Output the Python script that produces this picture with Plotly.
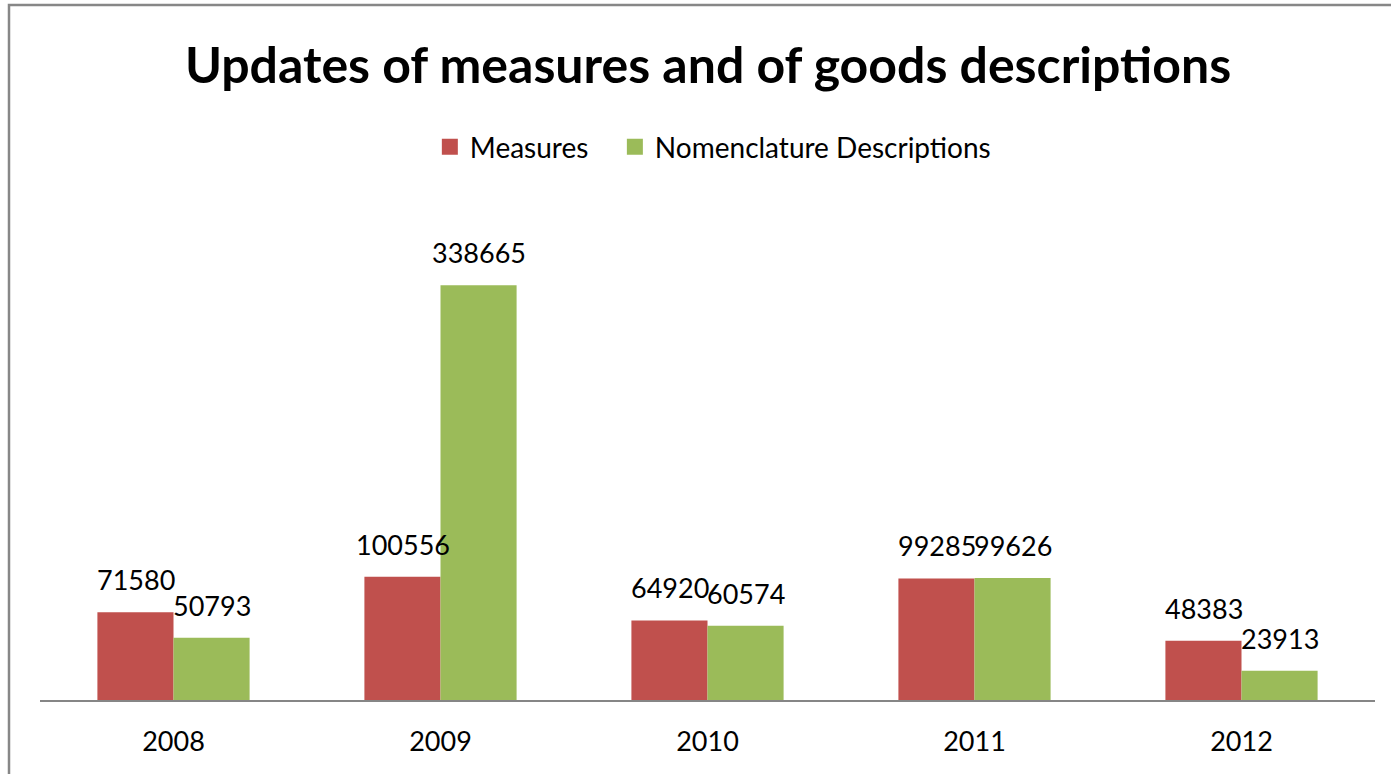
import plotly.graph_objects as go

years = ["2008", "2009", "2010", "2011", "2012"]
measures = [71580, 100556, 64920, 99285, 48383]
nomenclature = [50793, 338665, 60574, 99626, 23913]
series_names = ["Measures", "Nomenclature Descriptions"]

RED = "#C0504D"
GREEN = "#9BBB59"
FONT = "Lato"

fig = go.Figure()
fig.add_trace(go.Bar(name=series_names[0], x=years, y=measures, showlegend=False,
                     marker=dict(color=RED, line=dict(width=0))))
fig.add_trace(go.Bar(name=series_names[1], x=years, y=nomenclature, showlegend=False,
                     marker=dict(color=GREEN, line=dict(width=0))))
# legend entries with larger square swatches
legend_labels = [series_names[0] + "\u00a0\u00a0\u00a0", series_names[1]]
for name, col in zip(legend_labels, [RED, GREEN]):
    fig.add_trace(go.Scatter(name=name, x=[years[0]], y=[None], mode="markers",
                             marker=dict(symbol="square", size=17, color=col), showlegend=True))

annotations = []
for i, v in enumerate(measures):
    annotations.append(dict(x=i, y=v, xref="x", yref="y", text=str(v), showarrow=False,
                            xshift=-38, yanchor="bottom", yshift=14,
                            font=dict(family=FONT, size=27, color="#000000")))
for i, v in enumerate(nomenclature):
    annotations.append(dict(x=i, y=v, xref="x", yref="y", text=str(v), showarrow=False,
                            xshift=38, yanchor="bottom", yshift=14,
                            font=dict(family=FONT, size=27, color="#000000")))

fig.update_layout(
    width=1391, height=774,
    margin=dict(l=40, r=16, t=210, b=74),
    paper_bgcolor="white", plot_bgcolor="white",
    barmode="group", bargap=0.43, bargroupgap=0,
    title=dict(text="<b>Updates of measures and of goods descriptions</b>",
               x=0.509, xanchor="center", y=1 - 65 / 774, yanchor="middle",
               font=dict(family=FONT, size=50, color="#000000")),
    legend=dict(orientation="h", x=0.504, xanchor="center", y=(700 - 147) / 490, yanchor="middle",
                font=dict(family=FONT, size=28, color="#000000"), itemwidth=30,
                traceorder="normal"),
    xaxis=dict(showgrid=False, showline=True, linecolor="#868686", linewidth=1.5,
               ticks="", tickfont=dict(family=FONT, size=27, color="#000000"),
               ticklabelstandoff=17, range=[-0.5, 4.5]),
    yaxis=dict(showgrid=False, visible=False, range=[0, 400000]),
    annotations=annotations,
    shapes=[dict(type="rect", xref="paper", yref="paper",
                 x0=(9 - 40) / 1335, x1=1.1, y0=-0.3, y1=(700 - 5) / 490,
                 line=dict(color="#878787", width=2.5), fillcolor="rgba(0,0,0,0)", layer="below")],
)

fig.write_html("out.html")
